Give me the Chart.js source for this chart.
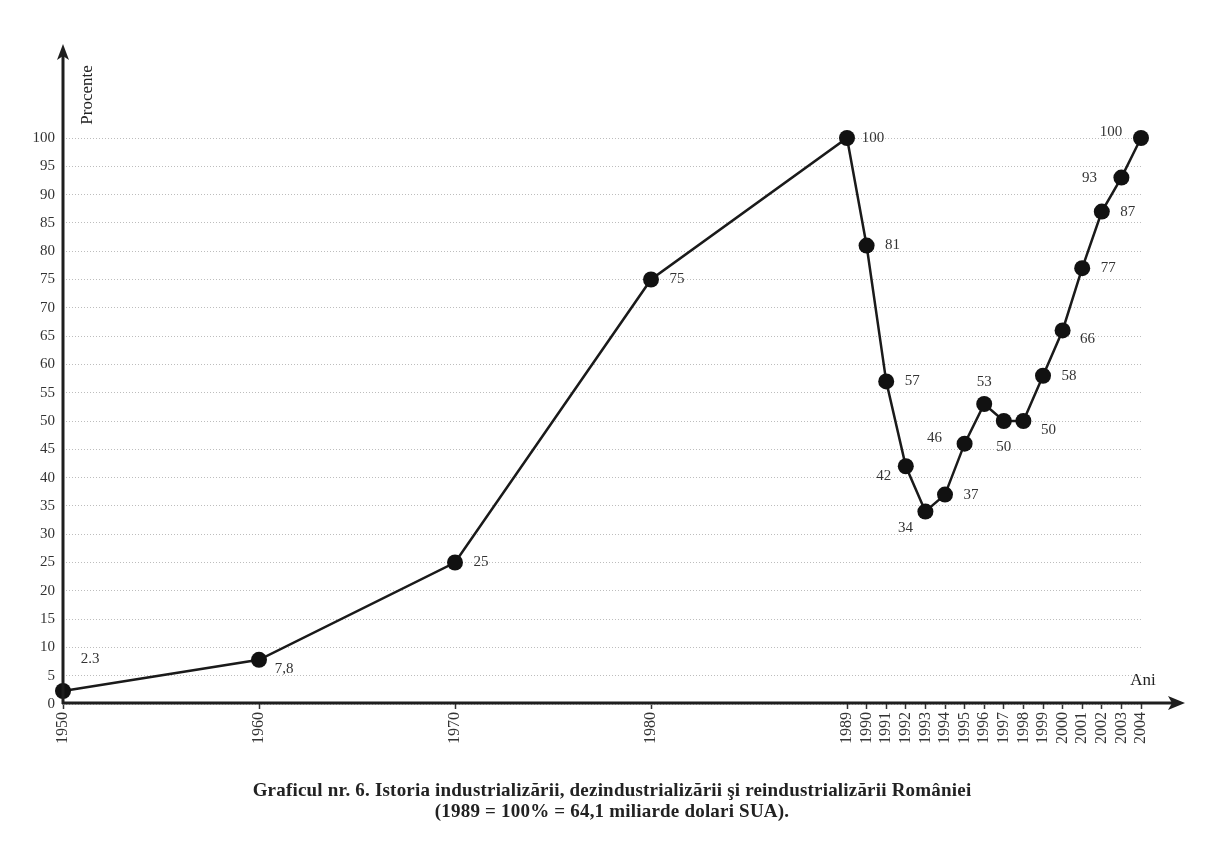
<!DOCTYPE html>
<html>
<head>
<meta charset="utf-8">
<script src="https://cdn.jsdelivr.net/npm/chart.js@4"></script>
<style>
  html, body { margin: 0; padding: 0; background: #fff; }
  #wrap { position: relative; width: 1224px; height: 845px; }
  #caption {
    position: absolute; left: 0; top: 779px; width: 1224px;
    text-align: center; font: bold 19px "Liberation Serif", serif; color: #222; line-height: 21px;
    letter-spacing: 0.2px;
  }
</style>
</head>
<body>
<div id="wrap">
  <canvas id="grafic" width="1224" height="845"></canvas>
  <div id="caption">Graficul nr. 6. Istoria industrializării, dezindustrializării şi reindustrializării României<br>(1989 = 100% = 64,1 miliarde dolari SUA).</div>
</div>
<script>
// ---------- date ----------
const years = [1950, 1960, 1970, 1980, 1989, 1990, 1991, 1992, 1993, 1994,
               1995, 1996, 1997, 1998, 1999, 2000, 2001, 2002, 2003, 2004];
const values = [2.3, 7.8, 25, 75, 100, 81, 57, 42, 34, 37,
                46, 53, 50, 50, 58, 66, 77, 87, 93, 100];
const valueLabels = ["2.3", "7,8", "25", "75", "100", "81", "57", "42", "34", "37",
                     "46", "53", "50", "50", "58", "66", "77", "87", "93", "100"];
// unde stă eticheta fata de punct
const labelSide = ["tr", "br", "r", "r", "r", "r", "r", "bl", "bl2", "r",
                   "tl", "t", "b", "br", "r", "br", "r", "r", "l", "tl"];

// axa X: intre decade sunt 9 pozitii goale
const slotLabels = [];
years.forEach((y, i) => {
  if (i > 0 && years[i] - years[i - 1] > 1) {
    for (let k = 0; k < 9; k++) slotLabels.push("");
  }
  slotLabels.push(String(y));
});

const SERIF = '"Liberation Serif", "DejaVu Serif", serif';
const offsets = {
  r: [26, 0], l: [-32, 0], t: [0, -22], b: [0, 26],
  tr: [27, -32], br: [25, 9], bl: [-22, 10], bl2: [-20, 17], tl: [-30, -6]
};

// ---------- plugin: axe cu sageti + etichete ----------
const desenAxe = {
  id: "desenAxe",
  afterDatasetsDraw(chart) {
    const { ctx, chartArea } = chart;
    const x0 = chartArea.left, y0 = chartArea.bottom - 1;
    ctx.save();
    ctx.strokeStyle = "#1e1e1e";
    ctx.fillStyle = "#1e1e1e";
    ctx.lineWidth = 3;
    // axa Y
    ctx.beginPath();
    ctx.moveTo(x0, y0 + 1);
    ctx.lineTo(x0, 56);
    ctx.stroke();
    ctx.beginPath();
    ctx.moveTo(x0, 44);
    ctx.lineTo(x0 - 6, 60);
    ctx.lineTo(x0, 56);
    ctx.lineTo(x0 + 6, 60);
    ctx.closePath();
    ctx.fill();
    // axa X
    ctx.beginPath();
    ctx.moveTo(x0 - 1, y0);
    ctx.lineTo(1172, y0);
    ctx.stroke();
    ctx.beginPath();
    ctx.moveTo(1185, y0);
    ctx.lineTo(1168, y0 - 7);
    ctx.lineTo(1172, y0);
    ctx.lineTo(1168, y0 + 7);
    ctx.closePath();
    ctx.fill();

    // titluri axe
    ctx.fillStyle = "#222";
    ctx.font = "17px " + SERIF;
    ctx.textAlign = "center";
    ctx.textBaseline = "middle";
    ctx.fillText("Ani", 1143, 681);
    ctx.save();
    ctx.translate(88, 95);
    ctx.rotate(-Math.PI / 2);
    ctx.fillText("Procente", 0, 0);
    ctx.restore();

    // etichete valori
    const meta = chart.getDatasetMeta(0);
    ctx.font = "15px " + SERIF;
    ctx.fillStyle = "#333";
    meta.data.forEach((pt, i) => {
      const o = offsets[labelSide[i]];
      ctx.fillText(valueLabels[i], pt.x + o[0], pt.y + o[1]);
    });
    ctx.restore();
  }
};

const ctx = document.getElementById("grafic").getContext("2d");
new Chart(ctx, {
  type: "line",
  data: {
    labels: slotLabels,
    datasets: [{
      data: years.map((y, i) => ({ x: String(y), y: values[i] })),
      borderColor: "#1a1a1a",
      borderWidth: 2.5,
      pointRadius: 8,
      pointBackgroundColor: "#111",
      pointBorderColor: "#111",
      pointBorderWidth: 0,
      tension: 0,
      clip: false
    }]
  },
  options: {
    responsive: false,
    animation: false,
    events: [],
    layout: { padding: { top: 138, right: 83, left: 0, bottom: 0 } },
    plugins: { legend: { display: false }, tooltip: { enabled: false } },
    scales: {
      x: {
        type: "category",
        offset: false,
        afterFit(scale) { scale.height = 845 - 704; },
        border: { display: false },
        grid: {
          drawOnChartArea: false,
          drawTicks: true,
          tickLength: 5,
          tickWidth: 1.5,
          tickColor: c => (c.tick && c.tick.label ? "#333" : "rgba(0,0,0,0)")
        },
        ticks: {
          autoSkip: false,
          minRotation: 90,
          maxRotation: 90,
          padding: 3,
          color: "#333",
          font: { family: SERIF, size: 16 }
        }
      },
      y: {
        min: 0,
        max: 100,
        afterFit(scale) { scale.width = 63; },
        border: { display: false },
        grid: {
          drawTicks: false,
          color: "#bdbdbd",
          lineWidth: 1
        },
        ticks: {
          stepSize: 5,
          padding: 8,
          color: "#333",
          font: { family: SERIF, size: 15 }
        }
      }
    }
  },
  plugins: [desenAxe, {
    id: "gridPunctat",
    beforeDraw(chart) {
      chart.options.scales.y.grid.borderDash = [1, 2];
      chart.scales.y.options.border.dash = [1, 2];
    }
  }]
});
</script>
</body>
</html>
